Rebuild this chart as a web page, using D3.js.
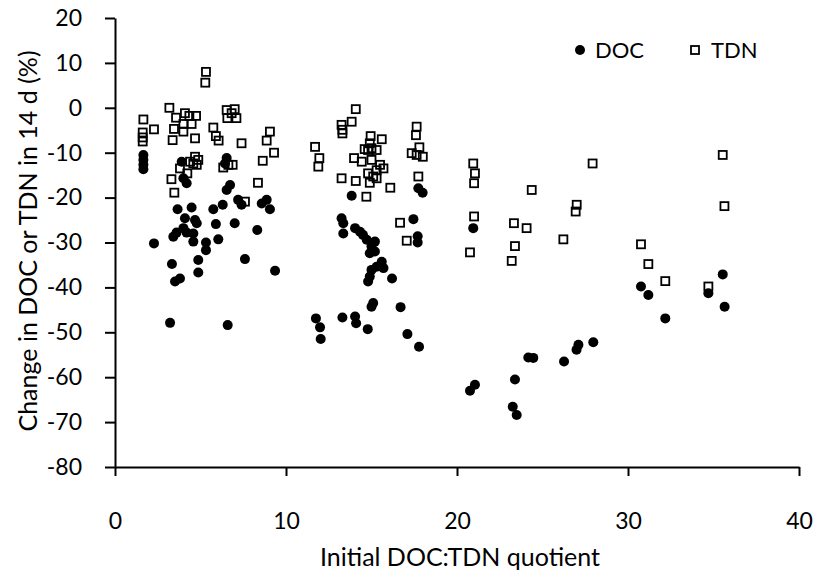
<!DOCTYPE html>
<html>
<head>
<meta charset="utf-8">
<script src="https://cdn.jsdelivr.net/npm/d3@7"></script>
<style>
  body { margin: 0; background: #fff; }
  text { font-family: Lato, "Noto Sans", sans-serif; fill: #000; }
</style>
</head>
<body>
<div id="chart-area"></div>
<script>
// DOC series
var docX = [1.66, 1.66, 1.66, 1.66, 3.9, 4.0, 4.19, 6.53, 6.43, 6.73, 6.53,
  7.2, 7.4, 8.87, 9.06, 8.58, 3.66, 4.48, 5.75, 6.3,
  4.09, 4.68, 4.78, 5.9, 7.0, 8.32, 4.0, 3.6, 3.41, 4.19, 4.58, 4.58,
  2.28, 5.32, 5.32, 6.04, 4.87, 7.6, 3.33, 4.87, 9.36, 3.8, 3.51, 3.22, 6.59,
  13.84, 17.74, 17.99, 13.25, 13.35, 13.35, 14.04, 14.33, 14.5, 14.72, 15.2, 15.0, 15.2, 14.9,
  15.6, 15.7, 15.0, 14.9, 14.8, 15.3, 16.2, 17.45, 17.7, 17.7, 15.1, 15.0, 16.7,
  11.75, 11.99, 12.03, 13.3, 14.04, 14.1, 14.78, 17.1, 17.78, 20.95,
  27.97, 27.1, 26.99, 24.17, 24.46, 26.26, 23.39, 21.05, 20.76, 23.26, 23.49,
  35.54, 30.76, 31.19, 34.7, 35.65, 32.18];
var docY = [-10.5, -11.6, -12.7, -13.7, -12.0, -15.7, -16.8, -11.2, -12.4, -17.2, -18.3,
  -20.5, -21.6, -20.5, -22.6, -21.3, -22.6, -22.2, -22.6, -21.6,
  -24.6, -25.0, -25.7, -25.9, -25.7, -27.2, -26.8, -27.8, -28.7, -27.8, -28.0, -29.8,
  -30.2, -30.0, -31.7, -29.3, -33.9, -33.7, -34.8, -36.7, -36.3, -38.0, -38.7, -47.9, -48.4,
  -19.6, -17.9, -18.9, -24.6, -25.7, -28.0, -26.8, -27.6, -28.3, -29.4, -29.8, -30.9, -32.0, -32.4,
  -34.3, -35.7, -36.1, -37.6, -38.7, -35.4, -38.0, -24.8, -28.6, -30.0, -43.5, -44.3, -44.4,
  -46.9, -48.9, -51.5, -46.7, -46.5, -48.0, -49.3, -50.4, -53.2, -26.8,
  -52.2, -52.8, -53.9, -55.6, -55.7, -56.5, -60.5, -61.7, -63.0, -66.6, -68.4,
  -37.1, -39.8, -41.7, -41.3, -44.3, -46.9];

// TDN series
var tdnX = [5.32, 5.28, 3.18, 1.66, 2.28, 1.62, 1.62, 1.62,
  3.57, 4.09, 4.35, 4.74, 4.48, 4.0, 3.45, 4.0, 3.37, 4.68,
  5.75, 5.9, 6.06, 6.53, 7.0, 6.57, 7.1, 6.82, 7.4,
  9.06, 8.87, 9.3, 8.64, 8.36, 4.68, 4.87, 4.58, 4.78, 4.39,
  3.8, 4.23, 3.3, 3.47, 6.33, 6.63, 6.88, 7.6,
  14.08, 13.84, 13.25, 13.3, 13.3, 11.7, 11.95, 11.89,
  14.95, 15.6, 14.9, 15.0, 14.6, 15.3, 14.8,
  13.98, 14.43, 15.0, 15.5, 15.7, 15.3, 14.8, 15.1, 15.3,
  14.9, 13.25, 14.08, 14.7, 16.1,
  17.64, 17.6, 17.8, 17.35, 17.64, 18.0, 17.74, 16.67, 17.06,
  20.95, 21.05, 21.0, 21.0, 20.76,
  27.93, 24.37, 27.0, 26.94, 23.33, 24.07, 26.22, 23.39, 23.2,
  35.54, 35.64, 30.76, 31.19, 32.18, 34.7];
var tdnY = [8.0, 5.6, 0.0, -2.6, -4.8, -5.5, -6.6, -7.5,
  -2.2, -1.2, -1.8, -1.8, -3.6, -3.6, -4.7, -5.3, -7.2, -6.8,
  -4.4, -6.3, -7.3, -0.5, -0.3, -2.3, -2.3, -1.2, -7.9,
  -5.3, -7.3, -10.0, -11.8, -16.7, -10.9, -11.6, -12.4, -12.7, -12.0,
  -13.5, -14.6, -15.9, -18.9, -13.3, -12.7, -12.7, -20.9,
  -0.3, -3.1, -3.8, -4.9, -5.7, -8.7, -11.2, -13.1,
  -6.3, -7.0, -7.9, -9.0, -9.2, -9.4, -9.4,
  -11.2, -12.0, -11.6, -12.7, -13.5, -13.9, -14.6, -15.3, -15.7,
  -16.7, -15.7, -16.3, -19.8, -17.8,
  -4.2, -6.1, -8.8, -10.1, -10.5, -10.9, -15.3, -25.6, -29.6,
  -12.4, -14.6, -16.8, -24.2, -32.2,
  -12.4, -18.3, -21.6, -23.1, -25.7, -26.8, -29.3, -30.8, -34.1,
  -10.5, -21.9, -30.4, -34.8, -38.6, -39.8];

var xTicks = [0, 10, 20, 30, 40];
var yTicks = [20, 10, 0, -10, -20, -30, -40, -50, -60, -70, -80];
var seriesNames = ["DOC", "TDN"];

var width = 818;
var height = 576;

var svg = d3.select("#chart-area")
  .append("svg")
    .attr("width", width)
    .attr("height", height)
    .style("background-color", "white");

var x = d3.scaleLinear().domain([0, 40]).range([115, 799]);
var y = d3.scaleLinear().domain([-80, 20]).range([467, 18]);

var tickFont = "23px";
var titleFont = "25px";

// plain hyphen for negatives, like the original
var fmt = function(d) { return String(d); };

var xAxis = d3.axisBottom(x).tickValues(xTicks).tickFormat(fmt)
  .tickSize(9).tickSizeOuter(0).tickPadding(37);
var yAxis = d3.axisLeft(y).tickValues(yTicks).tickFormat(fmt)
  .tickSize(10).tickSizeOuter(0).tickPadding(23);

var xAxisGroup = svg.append("g")
  .attr("transform", "translate(0," + y(-80) + ")")
  .call(xAxis);
var yAxisGroup = svg.append("g")
  .attr("transform", "translate(" + x(0) + ",0)")
  .call(yAxis);

[xAxisGroup, yAxisGroup].forEach(function(g) {
  g.select(".domain").attr("stroke", "#000").attr("stroke-width", 2);
  g.selectAll(".tick line").attr("stroke", "#000").attr("stroke-width", 2);
  g.selectAll(".tick text").attr("font-size", tickFont).attr("font-family", "Lato, sans-serif").attr("fill", "#000");
});

// points
var docData = docX.map(function(d, i) { return {x: d, y: docY[i]}; });
var tdnData = tdnX.map(function(d, i) { return {x: d, y: tdnY[i]}; });

svg.append("g").selectAll("circle")
  .data(docData)
  .enter()
  .append("circle")
    .attr("cx", function(d) { return x(d.x); })
    .attr("cy", function(d) { return y(d.y); })
    .attr("r", 5)
    .attr("fill", "#000");

var sq = 8;
svg.append("g").selectAll("rect")
  .data(tdnData)
  .enter()
  .append("rect")
    .attr("x", function(d) { return x(d.x) - sq / 2; })
    .attr("y", function(d) { return y(d.y) - sq / 2; })
    .attr("width", sq)
    .attr("height", sq)
    .attr("fill", "none")
    .attr("stroke", "#000")
    .attr("stroke-width", 1.8);

// legend
var legend = svg.append("g");
legend.append("circle")
  .attr("cx", 580).attr("cy", 50).attr("r", 5).attr("fill", "#000");
legend.append("text")
  .attr("x", 595).attr("y", 58)
  .attr("font-size", "22px")
  .text(seriesNames[0]);
legend.append("rect")
  .attr("x", 695 - sq / 2).attr("y", 50 - sq / 2)
  .attr("width", sq).attr("height", sq)
  .attr("fill", "none").attr("stroke", "#000").attr("stroke-width", 1.8);
legend.append("text")
  .attr("x", 711).attr("y", 58)
  .attr("font-size", "22px")
  .text(seriesNames[1]);

// axis titles
svg.append("text")
  .attr("x", 460)
  .attr("y", 566)
  .attr("font-size", titleFont)
  .attr("text-anchor", "middle")
  .text("Initial DOC:TDN quotient");

svg.append("text")
  .attr("x", -241)
  .attr("y", 37)
  .attr("font-size", titleFont)
  .attr("text-anchor", "middle")
  .attr("transform", "rotate(-90)")
  .text("Change in DOC or TDN in 14 d (%)");
</script>
</body>
</html>
